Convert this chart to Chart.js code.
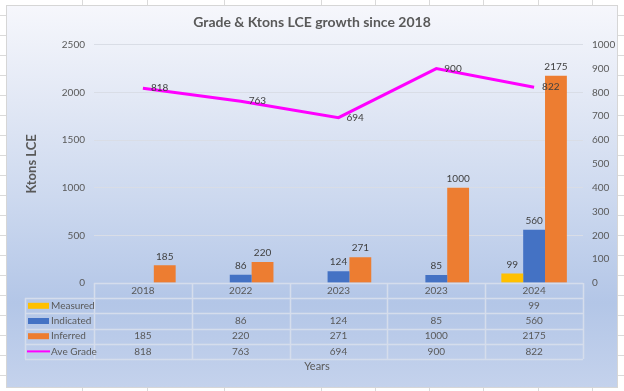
<!DOCTYPE html>
<html>
<head>
<meta charset="utf-8">
<script src="https://cdn.jsdelivr.net/npm/chart.js@4"></script>
<style>
    body { margin: 0; width: 624px; height: 391px; overflow: hidden; background: #fff; position: relative; font-family: Lato, sans-serif; }
    .vl { position: absolute; top: 0; width: 1px; height: 391px; background: #dadada; }
    .hl { position: absolute; left: 0; height: 1px; width: 624px; background: #dadada; }
    #box {
        position: absolute; left: 6px; top: 5px; width: 610px; height: 381px;
        border: 1px solid #d6d6d6;
        background: linear-gradient(to bottom, #f6f7fc 0%, #e2e8f5 25%, #cdd9ef 50%, #b3c6e7 78%, #c4d2ec 100%);
    }
    #chart { position: absolute; left: 0; top: 0; }
</style>
</head>
<body>
<div id="box"><canvas id="chart" width="610" height="381"></canvas></div>
<script>
// dados do gráfico
const categories = ['2018', '2022', '2023', '2023', '2024'];
const measured = [null, null, null, null, 99];
const indicated = [null, 86, 124, 85, 560];
const inferred = [185, 220, 271, 1000, 2175];
const aveGrade = [818, 763, 694, 900, 822];

const seriesNames = ['Measured', 'Indicated', 'Inferred', 'Ave Grade'];
const seriesColors = ['#FFC000', '#4472C4', '#ED7D31', '#FF00FF'];
const leftTicks = [0, 500, 1000, 1500, 2000, 2500];
const rightTicks = [0, 100, 200, 300, 400, 500, 600, 700, 800, 900, 1000];

// linhas de grade da planilha ao fundo
[82, 147, 224, 321, 375, 429, 483, 538, 592].forEach(function(x) {
    const d = document.createElement('div');
    d.className = 'vl';
    d.style.left = x + 'px';
    document.body.insertBefore(d, document.body.firstChild);
});
for (let y = 15; y < 391; y += 20) {
    const d = document.createElement('div');
    d.className = 'hl';
    d.style.top = y + 'px';
    document.body.insertBefore(d, document.body.firstChild);
}

const textColor = '#595959';
const font = 'Lato, sans-serif';

// plugin para desenhar rótulos e a tabela de dados
const tablePlugin = {
    id: 'dataTable',
    afterDatasetsDraw(chart) {
        const ctx = chart.ctx;
        ctx.save();
        ctx.font = '10px ' + font;
        ctx.fillStyle = '#404040';
        chart.data.datasets.forEach(function(ds, i) {
            const meta = chart.getDatasetMeta(i);
            meta.data.forEach(function(el, j) {
                const v = ds.data[j];
                if (v === null) return;
                if (ds.type === 'line') {
                    ctx.textAlign = 'left';
                    ctx.textBaseline = 'middle';
                    ctx.fillText(v, el.x + 8, el.y);
                } else {
                    ctx.textAlign = 'center';
                    ctx.textBaseline = 'bottom';
                    ctx.fillText(v, el.x, el.y - 4);
                }
            });
        });
        ctx.restore();
    },
    afterDraw(chart) {
        const ctx = chart.ctx;
        const area = chart.chartArea;
        const x = chart.scales.x;
        const rowH = 15.2;
        const top = area.bottom;
        const legendLeft = 18;
        const n = categories.length;
        const colW = (area.right - area.left) / n;
        const rows = [measured, indicated, inferred, aveGrade];

        ctx.save();
        ctx.strokeStyle = '#d5ddec';
        ctx.lineWidth = 1.5;
        ctx.beginPath();
        // linhas horizontais
        ctx.moveTo(area.left, top + 0.5);
        ctx.lineTo(area.right, top + 0.5);
        for (let r = 1; r <= 5; r++) {
            const y = Math.round(top + r * rowH) + 0.5;
            ctx.moveTo(legendLeft, y);
            ctx.lineTo(area.right, y);
        }
        // linhas verticais
        for (let c = 0; c <= n; c++) {
            const xx = Math.round(area.left + c * colW) + 0.5;
            ctx.moveTo(xx, top);
            ctx.lineTo(xx, Math.round(top + 5 * rowH));
        }
        ctx.moveTo(legendLeft + 0.5, Math.round(top + rowH));
        ctx.lineTo(legendLeft + 0.5, Math.round(top + 5 * rowH));
        ctx.stroke();

        ctx.font = '10px ' + font;
        ctx.textBaseline = 'middle';
        rows.forEach(function(vals, r) {
            const yc = top + (r + 1.5) * rowH;
            // legenda
            if (r < 3) {
                ctx.fillStyle = seriesColors[r];
                ctx.fillRect(legendLeft + 3, yc - 3, 21, 6);
            } else {
                ctx.strokeStyle = seriesColors[r];
                ctx.lineWidth = 2;
                ctx.beginPath();
                ctx.moveTo(legendLeft + 2, yc);
                ctx.lineTo(legendLeft + 25, yc);
                ctx.stroke();
            }
            ctx.fillStyle = textColor;
            ctx.textAlign = 'left';
            ctx.fillText(seriesNames[r], legendLeft + 26, yc);
            ctx.textAlign = 'center';
            vals.forEach(function(v, j) {
                if (v === null) return;
                ctx.fillText(v, x.getPixelForValue(j), yc);
            });
        });

        ctx.font = '11px ' + font;
        ctx.textAlign = 'center';
        ctx.fillText('Years', 310, 360);
        ctx.restore();
    }
};

const plainTick = function(value) { return String(value); };

const ctx = document.getElementById('chart').getContext('2d');
const gradeChart = new Chart(ctx, {
    data: {
        labels: categories,
        datasets: [{
            type: 'line',
            label: seriesNames[3],
            data: aveGrade,
            borderColor: seriesColors[3],
            borderWidth: 3,
            pointRadius: 0,
            yAxisID: 'y1',
            order: 0
        }, {
            type: 'bar',
            label: seriesNames[0],
            data: measured,
            backgroundColor: seriesColors[0],
            order: 1
        }, {
            type: 'bar',
            label: seriesNames[1],
            data: indicated,
            backgroundColor: seriesColors[1],
            order: 1
        }, {
            type: 'bar',
            label: seriesNames[2],
            data: inferred,
            backgroundColor: seriesColors[2],
            order: 1
        }]
    },
    options: {
        responsive: false,
        animation: false,
        categoryPercentage: 0.67,
        barPercentage: 1,
        layout: { padding: { top: 4, left: 0, right: 0, bottom: 0 } },
        plugins: {
            legend: { display: false },
            tooltip: { enabled: false },
            title: {
                display: true,
                text: 'Grade & Ktons LCE growth since 2018',
                color: textColor,
                font: { family: font, size: 14, weight: 'bold' },
                padding: { top: 4, bottom: 14 }
            }
        },
        scales: {
            x: {
                grid: { display: false, drawTicks: false },
                border: { display: false },
                ticks: { color: textColor, font: { family: font, size: 10 }, padding: 2 },
                afterFit: function(scale) { scale.height = 104; }
            },
            y: {
                position: 'left',
                min: 0,
                max: leftTicks[leftTicks.length - 1],
                afterBuildTicks: function(scale) { scale.ticks = leftTicks.map(v => ({ value: v })); },
                grid: { color: '#d9dde6', drawTicks: false },
                border: { display: false },
                ticks: { color: textColor, font: { family: font, size: 10 }, padding: 9, callback: plainTick },
                title: {
                    display: true,
                    text: 'Ktons LCE',
                    color: textColor,
                    font: { family: font, size: 13, weight: 'bold' },
                    padding: { top: 17 }
                },
                afterFit: function(scale) { scale.width = 87; }
            },
            y1: {
                position: 'right',
                min: 0,
                max: rightTicks[rightTicks.length - 1],
                afterBuildTicks: function(scale) { scale.ticks = rightTicks.map(v => ({ value: v })); },
                grid: { drawOnChartArea: false, drawTicks: false },
                border: { display: false },
                ticks: { color: textColor, font: { family: font, size: 10 }, padding: 9, callback: plainTick },
                afterFit: function(scale) { scale.width = 34; }
            }
        }
    },
    plugins: [tablePlugin]
});
</script>
</body>
</html>
